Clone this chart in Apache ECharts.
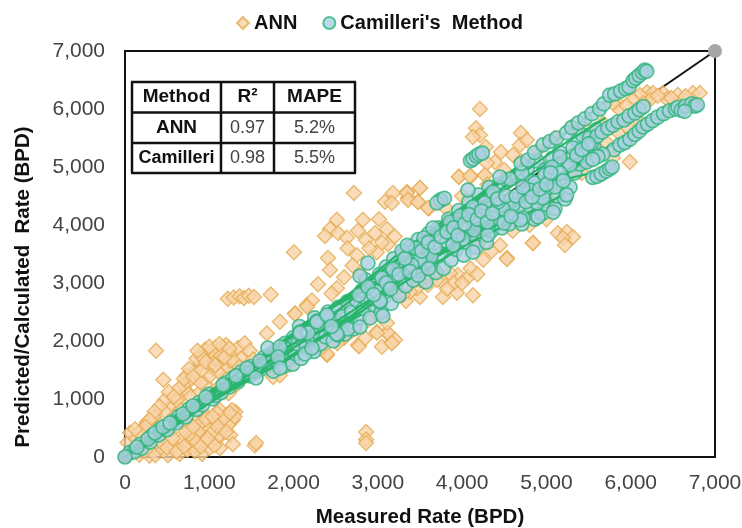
<!DOCTYPE html>
<html>
<head>
<meta charset="utf-8">
<style>
  html, body { margin: 0; padding: 0; background: #fff; }
  #main { width: 742px; height: 528px; }
</style>
<script src="https://cdn.jsdelivr.net/npm/echarts@6/dist/echarts.min.js"></script>
</head>
<body>
<div id="main"></div>
<script>
// values (measured, predicted)
var annPoints = [
  [30,250],[60,420],[90,120],[130,320],[170,40],[200,480],[230,180],[260,600],[290,20],[310,350],[340,690],[360,30],[390,220],[368,1830],[455,1330],
  [420,560],[450,120],[480,790],[510,30],[530,420],[560,900],[590,180],[620,640],[640,1010],[650,50],[680,300],[700,760],[720,1150],[740,120],[760,490],
  [770,1320],[790,880],[810,200],[830,1480],[850,620],[870,1090],[880,330],[900,1610],[915,50],[930,760],[950,1260],[970,440],[990,1760],[1000,150],
  [1020,1020],[1040,1520],[1050,620],[1070,1880],[1090,300],[1100,1190],[1120,820],[1127,150],[1140,1650],[1160,530],[1180,1380],[1200,1930],[1210,720],
  [1230,1100],[1250,380],[1260,1790],[1280,640],[1290,1530],[1310,780],[1325,1250],[1340,1880],[1380,1700],[1420,1960],[1450,1540],[1480,1830],[1520,1680],
  [1540,200],[1555,240],[1560,1460],[850,1700],[900,1280],[950,1850],[1010,1400],[1060,1700],[1110,1470],[1150,1900],[1220,1550],[780,1040],[730,1400],
  [690,1240],[660,820],[610,980],[580,700],[760,240],[830,100],[880,560],[940,280],[1000,480],[1060,200],[1120,380],[1180,690],[1230,560],[1280,220],
  [1300,700],[1270,810],[1240,760],[1150,640],[1090,760],[1030,420],[960,650],[870,440],[790,350],[720,430],[1130,1760],[1250,1660],[1020,1830],[920,1720],
  [640,1180],[700,1350],[760,1520],[810,1390],[860,1830],[910,1500],[960,1640],[1000,1900],[1070,1580],[1120,1950],[1180,1720],[1240,1870],[1300,1640],[1360,1550],
  [470,980],[520,1120],[580,1040],[410,870],[350,780],[290,640],[240,520],[170,420],[120,480],[440,240],[500,160],[570,320],[610,90],[700,180],[730,640],[810,520],[850,260],[900,180],[980,320],[1040,700],[1100,520],[1200,430],
  [1220,2730],[1290,2750],[1360,2770],[1410,2740],[1470,2780],[1530,2760],[1730,2800],
  [1756,1380],[1838,1410],[1957,1590],[1684,2130],[1838,2330],[2017,2480],[2159,2620],[2278,1960],[2396,1760],[2764,1930],[3048,1900],[3166,1980],[2989,2160],[3108,2140],
  [3120,2140],[2989,2140],[3203,2020],[3166,1960],[2776,1910],[2396,1780],[2349,1900],[2882,2360],[2989,2480],[3108,2310],[2600,2050],[2700,2180],[2520,1960],[2850,2050],
  [2716,4550],[3084,4400],[3180,4550],[3166,4380],[3345,4570],[3500,4640],[3357,4470],[3476,4400],[3606,4290],[3962,4830],[4104,4840],[4270,4860],[2514,4090],[2823,4090],
  [3013,4100],[2432,3930],[2372,3810],[2527,3860],[2633,3780],[2764,3900],[2966,3860],[3108,3930],[2859,3740],[2005,3530],[2408,3430],[2432,3224],[2290,2980],[2752,3480],
  [2989,3530],[3120,3670],[2218,2700],[2160,2590],[2017,2465],[2514,2910],[2640,3600],[2900,3600],[3050,3700],[3200,3800],[2700,3300],[2600,3100],[2800,3150],[2450,2820],
  [4840,3690],[4531,3430],[4128,2790],[3938,2830],[3772,2760],[3499,2760],[3333,2690],[3594,2965],[3760,3020],[3950,3140],[4069,3100],[3677,3190],[3855,3170],[3463,2910],
  [3700,3050],[3900,3000],[4100,3250],[3580,3100],[3380,2850],[4000,3000],[3820,2900],[4180,3150],[4250,3400],[4350,3550],[4450,3650],[3500,3050],[3300,2800],
  [2860,430],[2860,300],[2860,240],
  [4211,6000],[4164,5670],[4211,5550],[4128,5517],[4282,5345],[4460,5260],[4697,5586],[4686,5380],[4768,5465],[4603,5207],[4389,5086],[4294,5069],[3962,4830],[4092,4845],[4270,4860],
  [3345,4550],[3499,4640],[3357,4430],[3476,4396],[3594,4293],[5990,5086],[4840,3690],[4531,3414],[5136,3860],[5243,3880],[5314,3793],[5196,3776],[5219,3655],
  [6192,6290],[6263,6275],[6382,6275],[6430,6170],[6560,6240],[6738,6275],[6820,6275],[6109,6240],[6026,6155],[6228,6155],[5836,6120],[5872,5983],[5670,5758],[5480,5638],[5789,6103],
  [6320,6230],[6480,6190],[6650,6220],[6150,6100],[5950,6060],[5421,4897],[5279,4880],[5789,5155],[5500,5120],[5620,5300],[5720,5420],[5860,5580],[5950,5700],[6080,5820],
  [3800,4300],[4000,4500],[4300,4700],[4500,4950],[4700,5100],[4900,5300],[5100,5500],[5300,5700],[4800,4000],[5000,4100],[4600,3900],[4200,3700],[5050,4400]
];

// dense part of the band, mostly covered by camPoints
var camUnder = [
  [60,80],[110,90],[180,220],[200,150],[300,260],[320,370],[400,380],[420,480],[480,520],[500,470],[580,620],[610,590],[640,700],[720,690],[760,830],[850,820],[880,940],[920,900],
  [1000,1080],[1040,1000],[1080,1060],[1140,1110],[1200,1280],[1240,1210],[1280,1360],[1340,1300],[1380,1470],
  [1420,1440],[1480,1400],[1500,1560],[1560,1480],[1620,1520],[1650,1720],[1700,1600],[1720,1760],[1760,1480],[1780,1820],[1800,1640],[1860,1780],[1880,1560],[1900,1960],[1930,1680],[1960,1860],[1990,1600],[2000,2060],[2020,1780],[2050,1950],
  [2070,2250],[2090,1700],[2110,2020],[2150,1900],[2180,2220],[2210,2060],[2240,1820],[2250,2400],[2290,2140],[2320,1950],[2340,2280],[2380,2070],[2410,2500],[2440,2200],[2470,2000],[2490,2350],[2530,2580],[2550,2230],[2580,2420],[2610,2120],
  [2640,2680],[2670,2320],[2690,2500],[2720,2210],[2750,2700],[2780,2400],[2810,2870],[2830,2560],[2860,3050],[2880,2680],[2910,2400],[2940,3000],[2960,2620],[2990,2850],[3020,3150],[3040,2500],[3070,2750],[3100,3280],[3130,2950],[3160,2650],
  [3190,3420],[3220,3000],[3250,2780],[3270,3280],[3300,3500],[3330,2950],[3360,3200],[3390,3620],[3420,3050],[3450,3420],[3480,3750],[3510,3200],[3540,3520],[3570,3020],[3600,3850],[3630,3350],[3660,3620],[3690,3180],[3720,3950],[3750,3500],
  [3780,3250],[3810,3720],[3840,4100],[3870,3400],[3900,3820],[3930,3580],[3960,4250],[3990,3950],[4020,3480],[4050,3700],[4080,4400],[4110,3850],[4140,4100],[4170,3620],[4200,4520],[4230,3950],[4260,4250],[4290,3700],[4320,4650],[4350,3900],
  [4380,4350],[4410,4050],[4440,4700],[4470,3950],[4500,4250],[4530,4780],[4560,4020],[4590,4450],[4620,4150],[4650,4850],[4680,4300],[4710,4020],[4740,4550],[4770,4950],[4800,4200],[4830,4750],[4860,4100],[4890,5100],[4920,4450],[4950,4200],
  [4980,4950],[5010,4350],[5040,4650],[5070,5150],[5100,4280],[5130,4500],[5160,5250],[5190,4800],[5220,4450],[5250,5050],[5280,4650],[5310,5200],[5340,4900],[5370,5450],[5400,5050],[5430,5550],[5470,5250],[5510,5500],[5560,5350],[5600,5650]
];

var camPoints = [
  [0,0],[142,172],[273,310],[356,414],[451,517],[534,586],[688,741],[807,879],[961,1034],[1163,1241],[1317,1397],[1447,1534],[1601,1655],[1554,1362],[1696,1879],[1839,1897],
  [1815,1724],[1839,1534],[2076,2155],[2171,2138],[2278,2345],[2396,2431],[2135,1776],[2218,1879],[2527,2103],[2645,2207],[2788,2241],[3060,2431],[3025,2672],[2076,2138],[2278,2328],
  [2396,2448],[2514,2121],[3025,2690],[2776,2793],[2882,2931],[3203,3138],[3048,3086],[2882,3345],[2788,3121],[3416,3310],[3511,3414],[3286,3552],[3630,3466],[3547,3776],[3654,3948],
  [3749,4431],[3855,4052],[3974,4155],[4128,4310],[4140,3914],[4009,3759],[3891,3655],[4128,3534],[4306,3828],[4603,4345],[4425,4121],[4484,4276],[4864,4724],[4567,4793],[4804,4603],
  [4496,4034],[3499,3397],[3404,3310],[4270,4379],[4425,4396],[4069,4603],[4365,4569],[4887,4379],[4721,4121],[4448,4828],[4709,4897],[4982,4862],[5279,5034],[5480,5086],[5314,5328],
  [5160,5172],[5065,5000],[5160,4897],[5101,4655],[4958,4466],[5240,4520],[5080,4220],[4900,4140],[4690,4090],[3740,4430],[3700,4380],[3790,4460],
  [4700,5060],[4780,5120],[4860,5250],[4960,5380],[5040,5440],[5120,5500],[5240,5590],[5300,5680],[5380,5760],[5457,5830],[5540,5920],[5630,6000],[5680,6090],[5750,6240],[5810,6260],
  [5880,6310],[5940,6350],[5980,6380],[6030,6490],[6060,6530],[6100,6580],[6140,6630],[6168,6670],[6190,6650],
  [5530,5400],[5600,5530],[5660,5600],[5730,5670],[5790,5720],[5850,5780],[5920,5810],[5980,5880],[6050,5930],[6100,5990],[6150,6040],
  [5800,5300],[5870,5380],[5930,5420],[5990,5480],[6050,5560],[6100,5620],[6145,5690],[6200,5740],[6260,5800],[6320,5860],[6390,5920],[6460,5970],[6530,6000],[6560,6030],[6600,5980],
  [6650,6050],[6725,6090],[6760,6050],[6790,6070],[6640,5960],[5550,4820],[5600,4840],[5650,4880],[5710,4930],[5750,4970],[5780,5000],[5670,5220],[5610,5180],[5550,5130],
  [4100,5110],[4130,5140],[4170,5190],[4200,5220],[4240,5240],
  [3100,3000],[3180,3240],[3250,3150],[3320,3420],[3380,3200],[3450,3600],[3520,3550],[3600,3700],[3680,3620],[3750,3800],[3820,3880],[3900,3950],[3950,3820],[4030,4020],[4080,4180],
  [4180,4100],[4230,4240],[4300,4050],[4360,4200],[4420,4450],[4520,4500],[4580,4150],[4640,4500],[4720,4650],[4760,4400],[4830,4480],[4920,4620],[5000,4700],[5050,4900],[5200,4760],
  [5360,5200],[5420,5300],[5500,5400],[2450,2250],[2950,2800],[3150,2900],[3480,3130],[3350,3650],[3600,3250]
];

// green streaks along the band
var camTracks = [
  [[0,0],[700,760],[1400,1500],[2200,2350],[3000,3150],[3800,4050],[4500,4800],[5200,5550],[5800,6250],[6170,6670]],
  [[0,0],[800,800],[1500,1450],[2300,2150],[3000,2800],[3800,3550],[4600,4350],[5300,5000],[5800,5400],[6300,5850],[6700,6060]],
  [[0,0],[600,680],[1200,1320],[1700,1780],[2400,2500],[3200,3450],[3900,4200],[4700,5050]],
  [[100,60],[700,640],[1300,1220],[1900,1650],[2600,2300],[3300,3000],[4100,3700],[4800,4200]],
  [[1400,1350],[2100,2050],[2900,2950],[3700,3800],[4400,4500],[5000,5050],[5600,5550],[6150,6040]],
  [[1700,1500],[2500,2230],[3200,3000],[4000,3780],[4700,4150],[5200,4520]],
  [[2000,2200],[2700,2800],[3400,3600],[4100,4350],[4800,5100]],
  [[3300,3200],[3900,3600],[4500,4200],[5100,4750],[5700,4950]],
  [[1500,1600],[2200,2100],[2800,2500],[3500,3300],[4200,4000],[4900,4550],[5600,5250]],
  [[200,250],[900,950],[1500,1500],[2100,2250],[2800,2950],[3500,3700],[4300,4450],[5100,5300],[5700,5850]],
  [[50,110],[500,610],[1000,1130],[1600,1700],[2300,2450],[3000,3000]],
  [[120,70],[600,560],[1100,1020],[1600,1420],[2200,1950],[2800,2450]],
  [[60,60],[550,530],[1050,1040],[1500,1380],[2000,1850]]
];
var refLine = [[0,0],[7000,7000]];

var tableRows = [
  ["Method","R²","MAPE"],
  ["ANN","0.97","5.2%"],
  ["Camilleri","0.98","5.5%"]
];

var textFont = "Liberation Sans, Arial, sans-serif";
var myChart = echarts.init(document.getElementById("main"));

// table inside the plot, drawn as graphic shapes
var colX = [132,221,274,355];
var rowY = [82,112.5,143,173];
var tableEls = [];
rowY.forEach(function (y) {
  tableEls.push({ type: "line", shape: { x1: colX[0] - 1, y1: y, x2: colX[3] + 1, y2: y }, style: { stroke: "#111", lineWidth: 2.5 } });
});
colX.forEach(function (x) {
  tableEls.push({ type: "line", shape: { x1: x, y1: rowY[0], x2: x, y2: rowY[3] }, style: { stroke: "#111", lineWidth: 2.5 } });
});
tableRows.forEach(function (row, r) {
  row.forEach(function (cell, c) {
    var bold = r === 0 || c === 0;
    tableEls.push({
      type: "text",
      style: {
        x: (colX[c] + colX[c + 1]) / 2,
        y: (rowY[r] + rowY[r + 1]) / 2,
        text: cell,
        align: "center",
        verticalAlign: "middle",
        fill: bold ? "#111" : "#444",
        font: (bold ? "bold " : "") + (c === 0 && r === 2 ? "18px " : bold ? "19px " : "18px ") + textFont
      }
    });
  });
});

var camStyle = { color: "#A9D0E0", borderColor: "#2FB57A", borderWidth: 1.7 };
var series = [
  {
    name: "ref",
    type: "line",
    data: refLine,
    clip: false,
    symbol: "circle",
    symbolSize: 14,
    itemStyle: { color: "#A6A6A6" },
    lineStyle: { color: "#111", width: 2 },
    z: 1
  },
  {
    name: "ANN",
    type: "scatter",
    data: annPoints,
    symbol: "diamond",
    symbolSize: 15,
    clip: false,
    itemStyle: { color: "#F9D3A9", borderColor: "#E5AC52", borderWidth: 1.4 },
    z: 2
  },
  {
    name: "Camilleri's  Method",
    type: "scatter",
    data: camUnder,
    symbol: "circle",
    symbolSize: 14,
    clip: false,
    itemStyle: camStyle,
    z: 3
  },
  {
    name: "Camilleri's  Method",
    type: "scatter",
    data: camPoints,
    symbol: "circle",
    symbolSize: 14,
    clip: false,
    itemStyle: camStyle,
    z: 5
  }
];
camTracks.forEach(function (t, i) {
  series.push({
    name: "track" + i,
    type: "line",
    data: t,
    symbol: "none",
    lineStyle: { color: "#27B56A", width: 2.2 },
    z: 4
  });
});

var option = {
  animation: false,
  backgroundColor: "#fff",
  legend: {
    data: [
      { name: "ANN", icon: "diamond" },
      { name: "Camilleri's  Method", icon: "circle" }
    ],
    top: 8,
    left: 231,
    itemWidth: 12,
    itemHeight: 12,
    itemGap: 25,
    textStyle: { color: "#111", fontSize: 20, fontWeight: "bold", fontFamily: textFont }
  },
  grid: { left: 125, right: 27, top: 51, bottom: 71, show: true, borderColor: "#111", borderWidth: 2, outerBoundsMode: "none" },
  xAxis: {
    type: "value",
    min: 0,
    max: 7000,
    interval: 1000,
    name: "Measured Rate (BPD)",
    nameLocation: "middle",
    nameGap: 50,
    nameTextStyle: { color: "#111", fontSize: 20.5, fontWeight: "bold", fontFamily: textFont },
    axisLine: { show: true, lineStyle: { color: "#111", width: 2 } },
    axisTick: { show: false },
    splitLine: { show: false },
    axisLabel: {
      margin: 16,
      color: "#444",
      fontSize: 21,
      fontFamily: textFont,
      formatter: function (v) { return v.toLocaleString("en-US"); }
    }
  },
  yAxis: {
    type: "value",
    min: 0,
    max: 7000,
    interval: 1000,
    name: "Predicted/Calculated  Rate (BPD)",
    nameLocation: "middle",
    nameGap: 91,
    nameTextStyle: { color: "#111", fontSize: 20.5, fontWeight: "bold", fontFamily: textFont, padding: [0, 66, 0, 0] },
    axisLine: { show: true, lineStyle: { color: "#111", width: 2 } },
    axisTick: { show: false },
    splitLine: { show: false },
    axisLabel: {
      margin: 20,
      color: "#444",
      fontSize: 21,
      fontFamily: textFont,
      formatter: function (v) { return v.toLocaleString("en-US"); }
    }
  },
  graphic: tableEls,
  series: series
};
myChart.setOption(option);
</script>
</body>
</html>
